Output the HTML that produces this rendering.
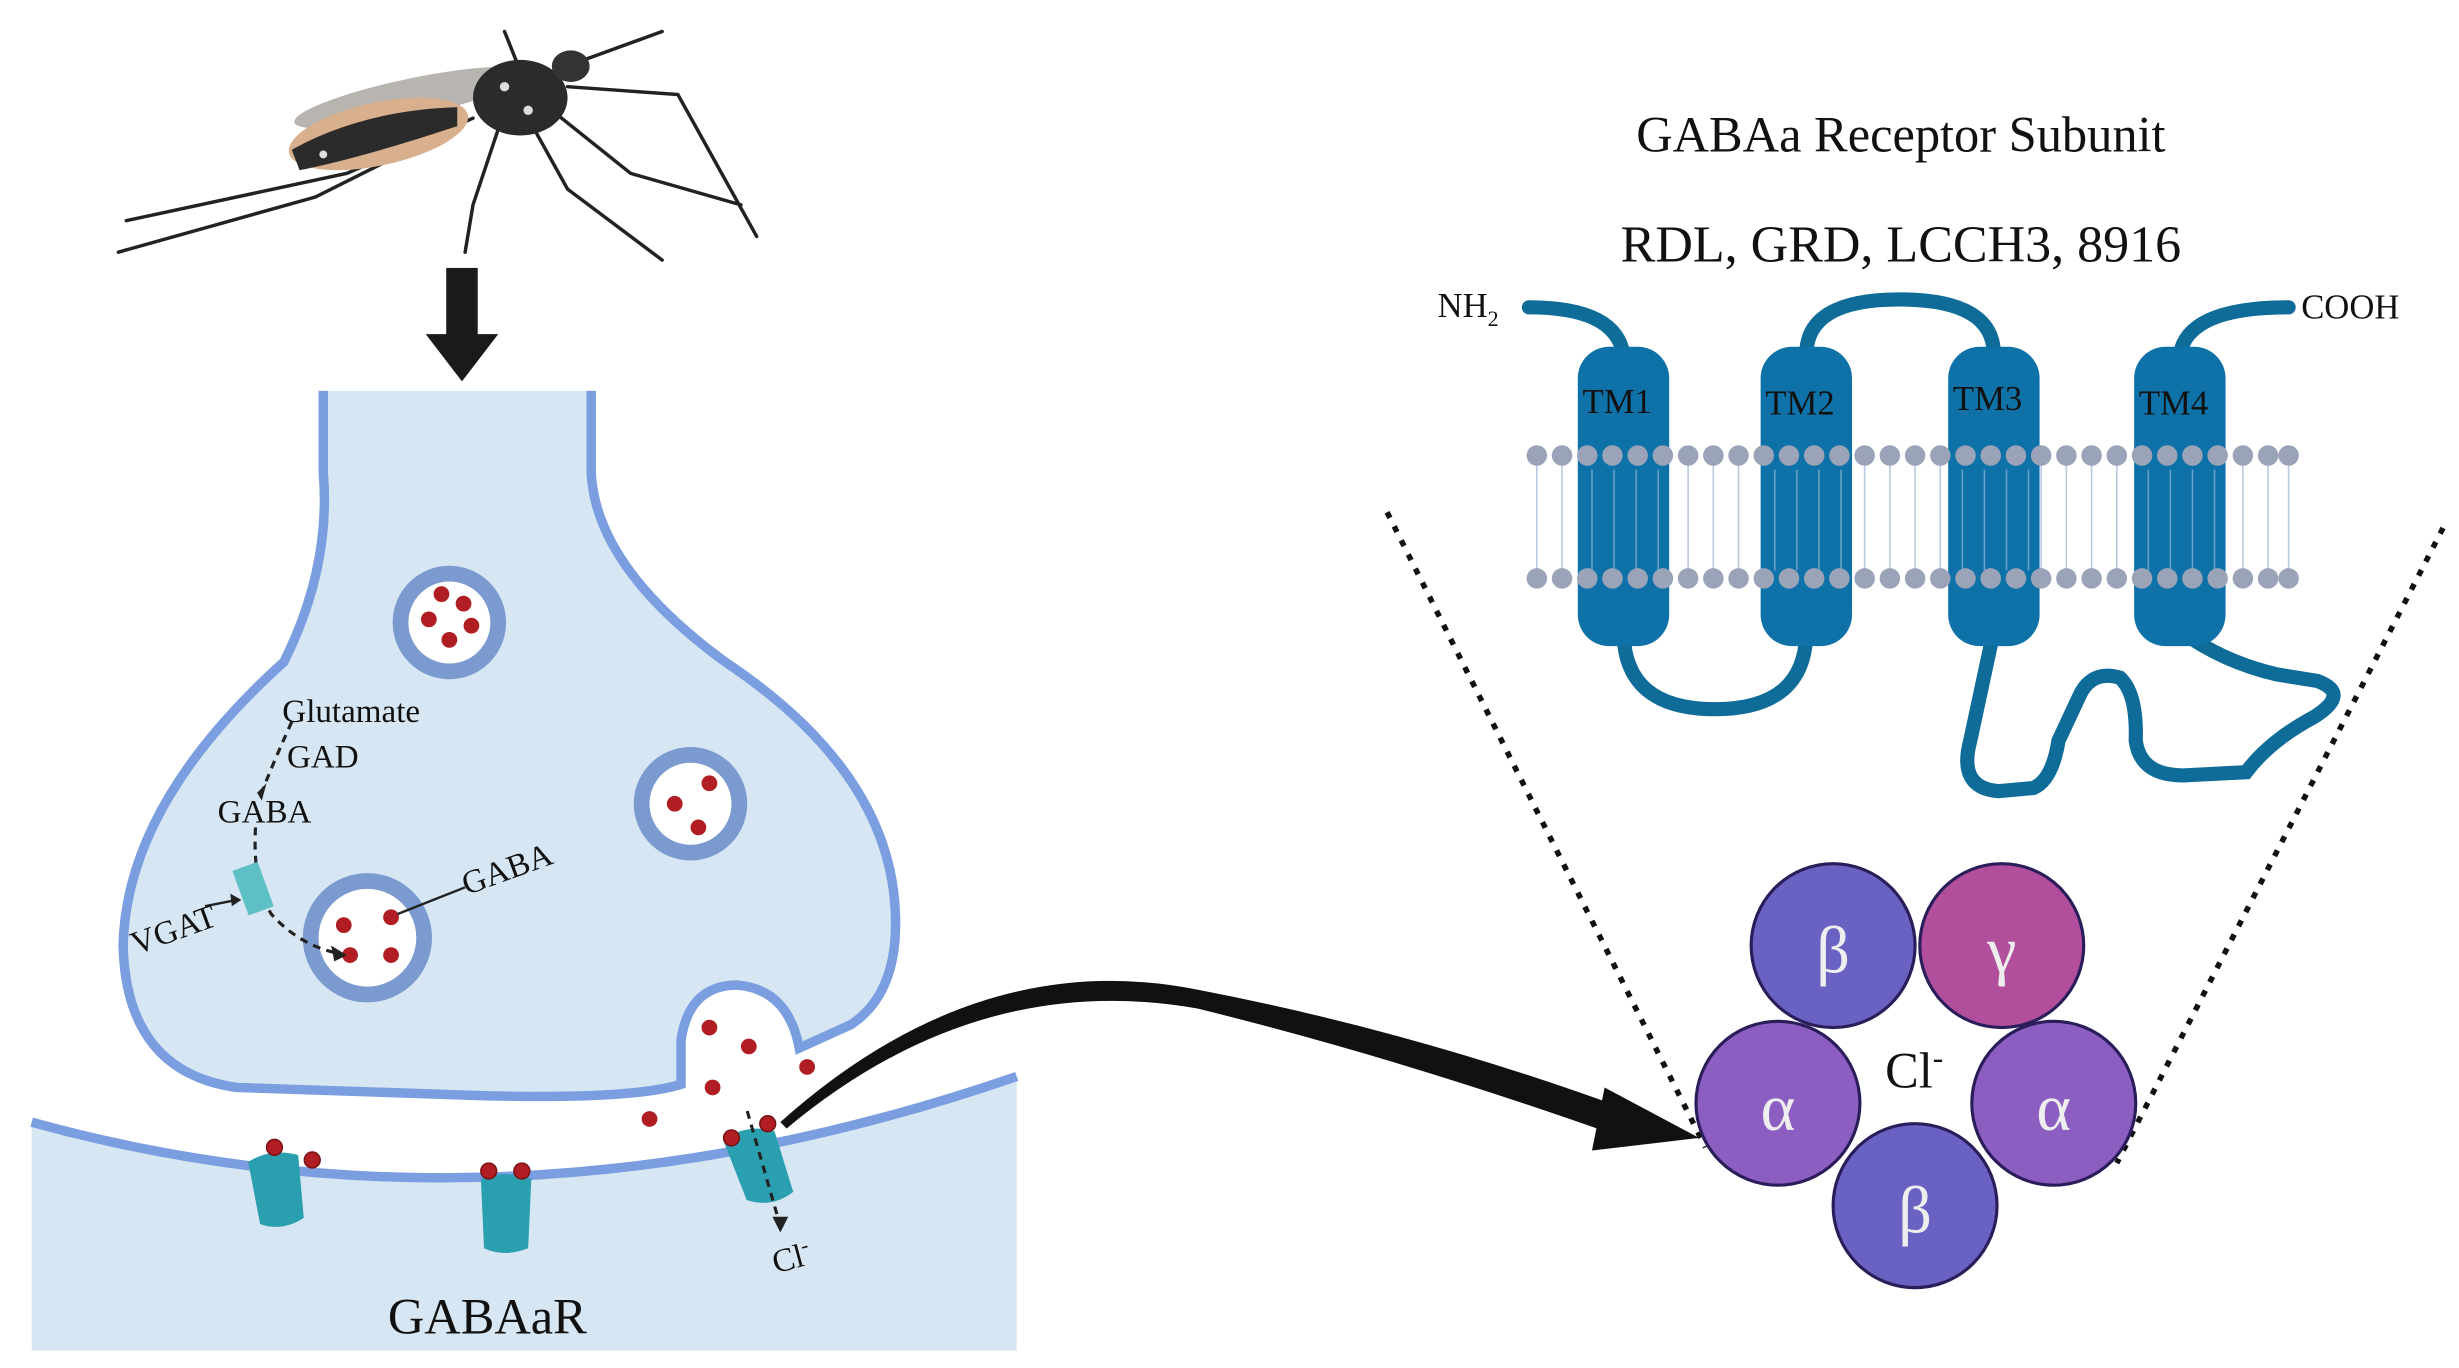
<!DOCTYPE html>
<html><head><meta charset="utf-8"><style>
html,body{margin:0;padding:0;background:#fff}
svg{display:block}
text{font-family:"Liberation Serif",serif}
</style></head><body>
<svg width="2459" height="1368" viewBox="0 0 1560 868" xmlns="http://www.w3.org/2000/svg">
<!-- mosquito -->
<g stroke="#222" stroke-width="2.2" fill="none" stroke-linecap="round">
<path d="M320,70 L300,130 L295,160"/>
<path d="M335,75 L360,120 L420,165"/>
<path d="M350,70 L400,110 L470,130"/>
<path d="M300,75 L220,110 L80,140"/>
<path d="M290,80 L200,125 L75,160"/>
<path d="M360,55 L430,60 L480,150"/>
<path d="M365,40 L420,20"/>
<path d="M330,45 L320,20"/>
</g>
<ellipse cx="260" cy="62" rx="75" ry="12" fill="#9a9590" opacity="0.7" transform="rotate(-12 260 62)"/>
<ellipse cx="240" cy="85" rx="58" ry="20" fill="#d9b08e" transform="rotate(-12 240 85)"/>
<path d="M185,95 Q230,70 290,68 L290,80 Q230,100 190,108 Z" fill="#2b2b2b"/>
<ellipse cx="330" cy="62" rx="30" ry="24" fill="#2b2b2b"/>
<ellipse cx="362" cy="42" rx="12" ry="10" fill="#333"/>
<circle cx="320" cy="55" r="3" fill="#ddd"/><circle cx="335" cy="70" r="3" fill="#ddd"/><circle cx="205" cy="98" r="2.5" fill="#ddd"/>
<!-- down arrow -->
<rect x="283" y="170" width="20" height="48" fill="#1a1a1a"/>
<polygon points="270,212 316,212 293,242" fill="#1a1a1a"/>
<!-- postsynaptic -->
<path d="M20,712 Q320,795 645,683 L645,857 L20,857 Z" fill="#d6e6f2"/>
<path d="M20,712 Q320,795 645,683" fill="none" stroke="#7a9ee0" stroke-width="6"/>
<!-- presynaptic -->
<path d="M205,248 L205,300 Q210,360 180,420 Q80,510 78,600 Q80,680 150,690 L300,695 Q400,698 432,688 L432,660 Q437,625 468,625 Q500,628 507,665 L540,650 Q570,630 568,580 Q565,490 460,420 Q378,360 375,300 L375,248" fill="#d6e6f2" stroke="#7a9ee0" stroke-width="6"/>
<!-- vesicles -->
<g fill="#fff" stroke="#7b9bd0" stroke-width="10">
<circle cx="285" cy="395" r="31"/>
<circle cx="438" cy="510" r="31"/>
<circle cx="233" cy="595" r="36"/>
</g>
<g fill="#b01e23">
<circle cx="280" cy="377" r="5"/><circle cx="294" cy="383" r="5"/><circle cx="272" cy="393" r="5"/><circle cx="299" cy="397" r="5"/><circle cx="285" cy="406" r="5"/>
<circle cx="450" cy="497" r="5"/><circle cx="428" cy="510" r="5"/><circle cx="443" cy="525" r="5"/>
<circle cx="218" cy="587" r="5"/><circle cx="248" cy="582" r="5"/><circle cx="222" cy="606" r="5"/><circle cx="248" cy="606" r="5"/>
<circle cx="450" cy="652" r="5"/><circle cx="475" cy="664" r="5"/><circle cx="512" cy="677" r="5"/><circle cx="452" cy="690" r="5"/><circle cx="412" cy="710" r="5"/>
</g>
<!-- receptors -->
<g fill="#2a9faf">
<path d="M160,735 Q175,728 192,735 L190,775 Q175,782 162,775 Z" transform="rotate(-8 175 755)"/>
<path d="M305,748 Q320,742 337,748 L335,792 Q320,798 307,792 Z"/>
<path d="M462,720 Q478,712 495,720 L500,760 Q485,768 470,760 Z" transform="rotate(-10 480 740)"/>
</g>
<g fill="#b01e23" stroke="#7a1216" stroke-width="1">
<circle cx="174" cy="728" r="5"/><circle cx="198" cy="736" r="5"/>
<circle cx="310" cy="743" r="5"/><circle cx="331" cy="743" r="5"/>
<circle cx="464" cy="722" r="5"/><circle cx="487" cy="713" r="5"/>
</g>
<!-- dashed pathways -->
<g fill="none" stroke="#222" stroke-width="2" stroke-dasharray="5,4">
<path d="M185,458 Q175,480 167,500"/>
<path d="M162,525 Q160,560 172,580 Q190,600 215,605"/>
<path d="M474,705 L495,778"/>
</g>
<rect x="152" y="549" width="17" height="30" fill="#5cc0c5" transform="rotate(-20 160 564)"/>
<line x1="130" y1="575" x2="150" y2="571" stroke="#222" stroke-width="1.5"/>
<line x1="295" y1="563" x2="252" y2="580" stroke="#222" stroke-width="1.5"/>
<g fill="#222"><polygon points="163,503 169,497 166,508"/><polygon points="220,606 210,600 212,610"/><polygon points="495,782 490,772 500,772"/><polygon points="153,571 146,567 147,575"/></g>
<g font-size="21" fill="#111">
<text x="179" y="458">Glutamate</text>
<text x="182" y="487">GAD</text>
<text x="138" y="522">GABA</text>
<text x="86" y="606" transform="rotate(-20 86 606)">VGAT</text>
<text x="296" y="568" transform="rotate(-20 296 568)">GABA</text>
<text x="492" y="808" transform="rotate(-15 492 808)">Cl<tspan dy="-8" font-size="14">-</tspan></text>
</g>
<text x="246" y="846" font-size="32" fill="#111">GABAaR</text>
<!-- big curved arrow -->
<path d="M495,712 Q620,600 760,628 Q900,655 1035,705 L1030,722 Q890,672 760,640 Q620,615 499,716 Z" fill="#111"/>
<polygon points="1018,690 1078,722 1010,730" fill="#111"/>
<!-- right titles -->
<text x="1206" y="96" font-size="32" text-anchor="middle" fill="#111">GABAa Receptor Subunit</text>
<text x="1206" y="166" font-size="33" text-anchor="middle" fill="#111">RDL, GRD, LCCH3, 8916</text>
<text x="912" y="201" font-size="22" fill="#111">NH<tspan dy="6" font-size="14">2</tspan></text>
<text x="1460" y="202" font-size="22" fill="#111">COOH</text>
<!-- membrane -->
<g stroke="#b8c8e0" stroke-width="1">
<path d="M975,295 L975,365 M991,295 L991,365 M1007,295 L1007,365 M1023,295 L1023,365 M1039,295 L1039,365 M1055,295 L1055,365 M1071,295 L1071,365 M1087,295 L1087,365 M1103,295 L1103,365 M1119,295 L1119,365 M1135,295 L1135,365 M1151,295 L1151,365 M1167,295 L1167,365 M1183,295 L1183,365 M1199,295 L1199,365 M1215,295 L1215,365 M1231,295 L1231,365 M1247,295 L1247,365 M1263,295 L1263,365 M1279,295 L1279,365 M1295,295 L1295,365 M1311,295 L1311,365 M1327,295 L1327,365 M1343,295 L1343,365 M1359,295 L1359,365 M1375,295 L1375,365 M1391,295 L1391,365 M1407,295 L1407,365 M1423,295 L1423,365 M1439,295 L1439,365 M1452,295 L1452,365"/>
</g>
<!-- loops -->
<g fill="none" stroke="#0f6b98" stroke-width="9" stroke-linecap="round">
<path d="M970,195 Q1025,195 1030,225"/>
<path d="M1146,225 Q1146,190 1205,190 Q1265,190 1265,225"/>
<path d="M1383,225 Q1388,195 1452,195"/>
<path d="M1030,400 Q1030,450 1088,450 Q1146,450 1146,400"/>
<path d="M1265,400 L1250,470 Q1242,500 1268,502 L1290,500 Q1302,495 1306,470 L1320,440 Q1328,425 1345,430 Q1356,440 1355,470 Q1358,492 1385,492 L1425,490 Q1440,470 1468,455 Q1492,440 1470,432 L1445,428 Q1410,420 1383,400"/>
</g>
<!-- TMs -->
<g fill="#0e72a8">
<rect x="1001" y="220" width="58" height="190" rx="20"/>
<rect x="1117" y="220" width="58" height="190" rx="20"/>
<rect x="1236" y="220" width="58" height="190" rx="20"/>
<rect x="1354" y="220" width="58" height="190" rx="20"/>
</g>
<g stroke="#8fb6d6" stroke-width="1" opacity="0.7">
<path d="M1010,298 L1010,362 M1024,298 L1024,362 M1038,298 L1038,362 M1052,298 L1052,362 M1126,298 L1126,362 M1140,298 L1140,362 M1154,298 L1154,362 M1168,298 L1168,362 M1245,298 L1245,362 M1259,298 L1259,362 M1273,298 L1273,362 M1287,298 L1287,362 M1363,298 L1363,362 M1377,298 L1377,362 M1391,298 L1391,362 M1405,298 L1405,362"/>
</g>
<g fill="#9aa3b8">
<g id="heads">
<circle cx="975" cy="289" r="6.5"/><circle cx="991" cy="289" r="6.5"/><circle cx="1007" cy="289" r="6.5"/><circle cx="1023" cy="289" r="6.5"/><circle cx="1039" cy="289" r="6.5"/><circle cx="1055" cy="289" r="6.5"/><circle cx="1071" cy="289" r="6.5"/><circle cx="1087" cy="289" r="6.5"/><circle cx="1103" cy="289" r="6.5"/><circle cx="1119" cy="289" r="6.5"/><circle cx="1135" cy="289" r="6.5"/><circle cx="1151" cy="289" r="6.5"/><circle cx="1167" cy="289" r="6.5"/><circle cx="1183" cy="289" r="6.5"/><circle cx="1199" cy="289" r="6.5"/><circle cx="1215" cy="289" r="6.5"/><circle cx="1231" cy="289" r="6.5"/><circle cx="1247" cy="289" r="6.5"/><circle cx="1263" cy="289" r="6.5"/><circle cx="1279" cy="289" r="6.5"/><circle cx="1295" cy="289" r="6.5"/><circle cx="1311" cy="289" r="6.5"/><circle cx="1327" cy="289" r="6.5"/><circle cx="1343" cy="289" r="6.5"/><circle cx="1359" cy="289" r="6.5"/><circle cx="1375" cy="289" r="6.5"/><circle cx="1391" cy="289" r="6.5"/><circle cx="1407" cy="289" r="6.5"/><circle cx="1423" cy="289" r="6.5"/><circle cx="1439" cy="289" r="6.5"/><circle cx="1452" cy="289" r="6.5"/>
</g>
<use href="#heads" y="78"/>
</g>
<g font-size="22" fill="#111">
<text x="1004" y="262">TM1</text><text x="1120" y="263">TM2</text><text x="1239" y="260">TM3</text><text x="1357" y="263">TM4</text>
</g>
<!-- dotted V -->
<g stroke="#111" stroke-width="3.5" stroke-dasharray="4,6" fill="none">
<line x1="880" y1="325" x2="1082" y2="728"/>
<line x1="1550" y1="335" x2="1343" y2="738"/>
</g>
<!-- subunits -->
<g stroke="#2a1d5a" stroke-width="2">
<circle cx="1163" cy="600" r="52" fill="#6a62c2"/>
<circle cx="1270" cy="600" r="52" fill="#b24f9c"/>
<circle cx="1128" cy="700" r="52" fill="#8c5ec2"/>
<circle cx="1303" cy="700" r="52" fill="#8c5ec2"/>
<circle cx="1215" cy="765" r="52" fill="#6a62c2"/>
</g>
<g font-size="42" fill="#eee" text-anchor="middle">
<text x="1163" y="617">β</text><text x="1270" y="617">γ</text><text x="1128" y="717">α</text><text x="1303" y="717">α</text><text x="1215" y="782">β</text>
</g>
<text x="1196" y="690" font-size="32" fill="#111">Cl<tspan dy="-12" font-size="20">-</tspan></text>
</svg>
</body></html>
